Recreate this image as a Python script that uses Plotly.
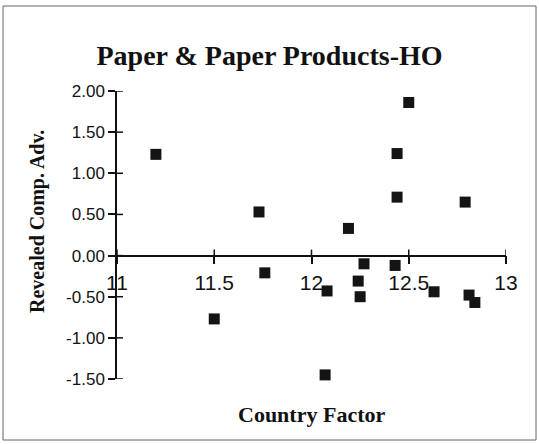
import plotly.graph_objects as go

# ---- data ----
country_factor = [11.20, 11.73, 11.76, 11.50, 12.07, 12.08, 12.19, 12.24, 12.25,
                  12.27, 12.43, 12.44, 12.44, 12.50, 12.63, 12.79, 12.81, 12.84]
rca = [1.23, 0.53, -0.21, -0.77, -1.45, -0.43, 0.33, -0.31, -0.50,
       -0.10, -0.12, 1.24, 0.71, 1.86, -0.44, 0.65, -0.48, -0.57]
x_ticks = [11, 11.5, 12, 12.5, 13]
x_ticklabels = ["11", "11.5", "12", "12.5", "13"]
y_ticks = [-1.5, -1.0, -0.5, 0.0, 0.5, 1.0, 1.5, 2.0]
y_ticklabels = ["-1.50", "-1.00", "-0.50", "0.00", "0.50", "1.00", "1.50", "2.00"]
title_text = "Paper & Paper Products-HO"
x_title = "Country Factor"
y_title = "Revealed Comp. Adv."

X_RANGE = [11, 13]
Y_RANGE = [-1.5, 2.0]

W, H = 539, 444
ML, MR, MT, MB = 117, 33, 91, 65
PW, PH = W - ML - MR, H - MT - MB
TICK_HALF = 6  # px on the inner side of the axis line (ticks cross the axis)

def px_to_paper_x(px):
    return (px - ML) / PW

def px_to_paper_y(py):
    return (H - MB - py) / PH

zero_pos = (0 - Y_RANGE[0]) / (Y_RANGE[1] - Y_RANGE[0])

serif = "Liberation Serif, Times New Roman, serif"
sans = "Liberation Sans, Arial, sans-serif"
narrow = "Liberation Sans Narrow, Arial Narrow, Liberation Sans, sans-serif"
INK = "#111111"

fig = go.Figure()
fig.add_trace(go.Scatter(
    x=country_factor, y=rca, mode="markers",
    marker=dict(symbol="square", size=11, color="#141414", line=dict(width=0)),
    showlegend=False, hoverinfo="x+y", cliponaxis=False,
))

base = dict(showgrid=False, zeroline=False)

# inner half of the crossing tick marks, placed through the axes' scales
tick_shapes = []
for t in x_ticks:
    tick_shapes.append(dict(
        type="line", xref="x", yref="y", x0=t, x1=t,
        ysizemode="pixel", yanchor=0, y0=0, y1=TICK_HALF,
        line=dict(color=INK, width=1.5), layer="above"))
for t in y_ticks:
    tick_shapes.append(dict(
        type="line", xref="x", yref="y", y0=t, y1=t,
        xsizemode="pixel", xanchor=X_RANGE[0], x0=0, x1=TICK_HALF,
        line=dict(color=INK, width=1.5), layer="above"))

frame = dict(type="rect", xref="paper", yref="paper",
             x0=px_to_paper_x(3), x1=px_to_paper_x(536),
             y0=px_to_paper_y(440), y1=px_to_paper_y(6),
             line=dict(color="#666", width=1), layer="below")

fig.update_layout(
    template="none",
    width=W, height=H,
    margin=dict(l=ML, r=MR, t=MT, b=MB),
    paper_bgcolor="white", plot_bgcolor="white",
    title=dict(text="<b>" + title_text + "</b>", x=0.5, xref="container",
               xanchor="center", y=(H - 55) / H, yanchor="middle",
               font=dict(family=serif, size=28, color=INK)),
    xaxis=dict(range=X_RANGE, anchor="free", position=zero_pos,
               showline=True, linecolor=INK, linewidth=1.5,
               ticks="outside", ticklen=8, tickcolor=INK, tickwidth=1.5,
               tickvals=x_ticks, ticktext=x_ticklabels,
               tickfont=dict(family=narrow, size=21, color=INK), **base),
    yaxis=dict(range=Y_RANGE, showline=True, linecolor=INK, linewidth=1.5,
               ticks="outside", ticklen=7, tickcolor=INK, tickwidth=1.5,
               tickvals=y_ticks, ticktext=y_ticklabels,
               tickfont=dict(family=sans, size=17, color=INK), **base),
    annotations=[
        dict(text="<b>" + x_title + "</b>", xref="paper", yref="paper",
             x=0.5, y=px_to_paper_y(414), xanchor="center", yanchor="middle",
             showarrow=False, font=dict(family=serif, size=22, color=INK)),
        dict(text="<b>" + y_title + "</b>", xref="paper", yref="paper",
             x=px_to_paper_x(37), y=px_to_paper_y(222), xanchor="center",
             yanchor="middle", textangle=-90, showarrow=False,
             font=dict(family=serif, size=20, color=INK)),
    ],
    shapes=[frame] + tick_shapes,
)

fig.write_html("out.html",
               config={"displayModeBar": False},
               post_script="document.body.style.margin='0px';"
                           "document.body.style.overflow='hidden';")
